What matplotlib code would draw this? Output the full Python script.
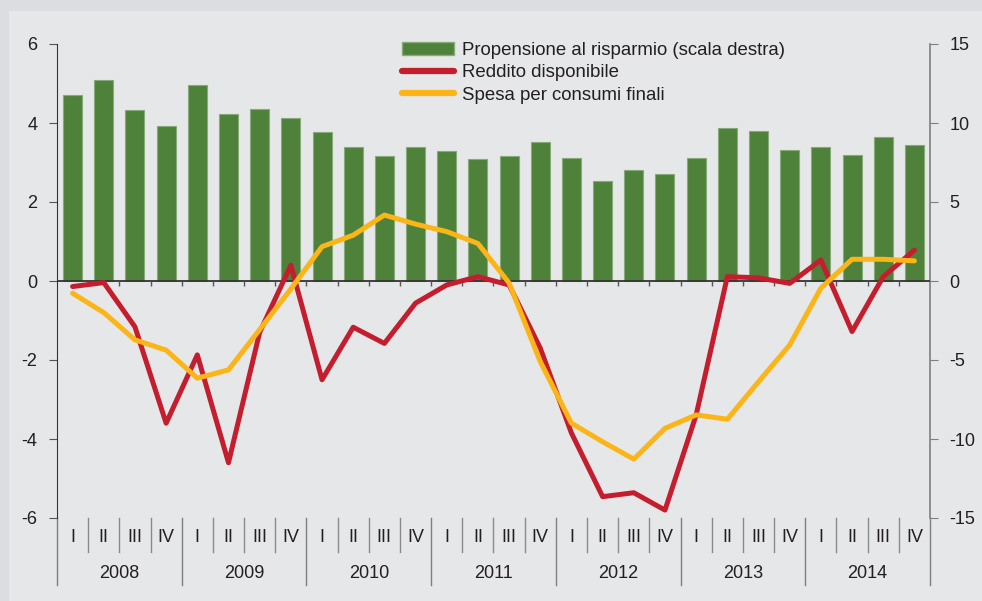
import numpy as np
import matplotlib
matplotlib.use("Agg")
import matplotlib.pyplot as plt
from matplotlib.patches import Rectangle, Patch
from matplotlib.lines import Line2D
import matplotlib.transforms as mtransforms

plt.rcParams['font.family'] = ['Liberation Sans', 'DejaVu Sans']
plt.rcParams['axes.unicode_minus'] = False

years = ['2008', '2009', '2010', '2011', '2012', '2013', '2014']
quarters = ['I', 'II', 'III', 'IV']

# propensione al risparmio (scala destra)
risparmio = [11.8, 12.7, 10.8, 9.8, 12.4, 10.6, 10.9, 10.3,
             9.4, 8.5, 7.9, 8.5, 8.2, 7.7, 7.9, 8.8,
             7.8, 6.3, 7.0, 6.8, 7.8, 9.7, 9.5, 8.3,
             8.5, 8.0, 9.1, 8.6]
# reddito disponibile (scala sinistra)
reddito = [-0.14, -0.04, -1.16, -3.6, -1.87, -4.6, -1.3, 0.4,
           -2.5, -1.17, -1.58, -0.56, -0.1, 0.11, -0.1, -1.7,
           -3.85, -5.46, -5.36, -5.8, -3.39, 0.11, 0.08, -0.06,
           0.53, -1.28, 0.11, 0.78]
# spesa per consumi finali (scala sinistra)
spesa = [-0.31, -0.8, -1.49, -1.75, -2.46, -2.25, -1.23, -0.2,
         0.87, 1.16, 1.67, 1.44, 1.25, 0.95, -0.05, -2.04,
         -3.6, -4.07, -4.51, -3.73, -3.39, -3.5, -2.55, -1.62,
         -0.18, 0.55, 0.55, 0.51]

green = '#4e813a'
red = '#c41e2e'
yellow = '#fbb516'
txt = '#231f20'
fs = 13

fig = plt.figure(figsize=(9.82, 6.01), dpi=100, facecolor='#dcdde0')
fig.patches.append(Rectangle((9 / 982, 0), 1, 1 - 11 / 601, transform=fig.transFigure,
                             facecolor='#e6e7e9', edgecolor='none', zorder=-5))

ax = fig.add_axes([57 / 982, 1 - 518 / 601, 873 / 982, 474 / 601])
ax2 = ax.twinx()
ax2.set_zorder(1)
ax.set_zorder(2)
ax.patch.set_visible(False)
ax2.patch.set_visible(False)

n = len(risparmio)
x = np.arange(n)

ax2.bar(x, risparmio, width=0.61, color=green, edgecolor='#86aa78', linewidth=0.8)
ax.plot(x, reddito, color=red, lw=3.6, zorder=3, solid_capstyle='round')
ax.plot(x, spesa, color=yellow, lw=3.6, zorder=4, solid_capstyle='round')

ax.set_xlim(-0.5, n - 0.5)
ax.set_ylim(-6, 6)
ax2.set_ylim(-15, 15)
ax.set_yticks(np.arange(-6, 7, 2))
ax2.set_yticks(np.arange(-15, 16, 5))
ax.set_xticks([])
ax2.set_xticks([])

for a in (ax, ax2):
    for s in ('top', 'bottom'):
        a.spines[s].set_visible(False)
ax.spines['right'].set_visible(False)
ax2.spines['left'].set_visible(False)
ax.spines['left'].set_color('#333333')
ax2.spines['right'].set_color('#7f7f7f')
ax2.spines['right'].set_linewidth(1.2)
ax.tick_params(axis='y', direction='out', length=6, color='#555555', labelsize=fs,
               labelcolor=txt, pad=8)
ax2.tick_params(axis='y', direction='out', length=6, color='#7f7f7f', labelsize=fs,
                labelcolor=txt, pad=8)

# zero line with quarter ticks
ax.axhline(0, color='#333333', lw=1.3, zorder=2)
bounds = np.arange(1, n) - 0.5
ax.vlines(bounds, -0.13, 0, color='#555555', lw=1, zorder=2)

# category labels below the plot
trans = mtransforms.blended_transform_factory(ax.transData, ax.transAxes)
for i in range(n):
    ax.text(i, -0.042, quarters[i % 4], transform=trans, ha='center', va='center',
            fontsize=fs, color=txt)
for b in bounds:
    if (b + 0.5) % 4 == 0:
        continue
    ax.plot([b, b], [0, -0.0717], transform=trans, color='#8a8a8a', lw=1, clip_on=False)
for k, yr in enumerate(years):
    ax.text(4 * k + 1.5, -0.118, yr, transform=trans, ha='center', va='center',
            fontsize=fs, color=txt)
for k in range(len(years) + 1):
    xb = 4 * k - 0.5
    ax.plot([xb, xb], [0, -0.141], transform=trans, color='#7f7f7f', lw=1, clip_on=False)

handles = [Patch(facecolor=green, edgecolor='#86aa78'),
           Line2D([], [], color=red, lw=4.5, solid_capstyle='round'),
           Line2D([], [], color=yellow, lw=4.5, solid_capstyle='round')]
labels = ['Propensione al risparmio (scala destra)', 'Reddito disponibile',
          'Spesa per consumi finali']
ax.legend(handles, labels, loc='upper left', bbox_to_anchor=(0.395, 1.005),
          frameon=False, fontsize=13.4, handlelength=2.8, handletextpad=0.45,
          labelspacing=0.3, borderpad=0, borderaxespad=0, labelcolor=txt)

fig.savefig('out.png', dpi=100, facecolor=fig.get_facecolor())
